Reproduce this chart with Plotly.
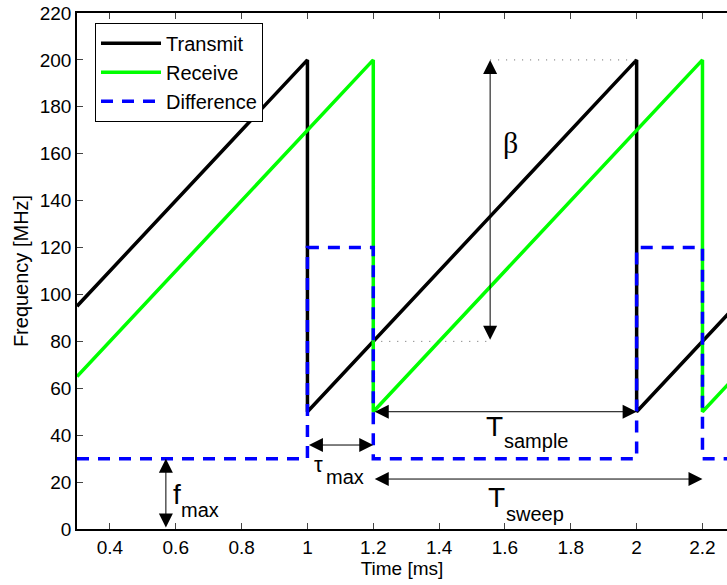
import plotly.graph_objects as go

# ---- data ----
time_transmit = [0.3, 1.0, 1.0, 2.0, 2.0, 2.3]
freq_transmit = [95, 200, 50, 200, 50, 95]
time_receive = [0.3, 1.2, 1.2, 2.2, 2.2, 2.3]
freq_receive = [65, 200, 50, 200, 50, 65]
time_diff = [0.3, 1.0, 1.0, 1.2, 1.2, 2.0, 2.0, 2.2, 2.2, 2.3]
freq_diff = [30, 30, 120, 120, 30, 30, 120, 120, 30, 30]

x_ticks = [0.4, 0.6, 0.8, 1.0, 1.2, 1.4, 1.6, 1.8, 2.0, 2.2]
x_tick_labels = ["0.4", "0.6", "0.8", "1", "1.2", "1.4", "1.6", "1.8", "2", "2.2"]

# double-headed arrows: (x_head, y_head, x_tail, y_tail)
arrow_x0 = [1.555, 1.2, 1.0, 1.2, 0.570]
arrow_y0 = [80, 50, 35.8, 21.3, 0]
arrow_x1 = [1.555, 2.0, 1.2, 2.2, 0.570]
arrow_y1 = [200, 50, 35.8, 21.3, 30]

# dotted guide lines
guide_x0 = [1.555, 1.2]
guide_x1 = [2.0, 1.555]
guide_y = [200, 80]

# labels
label_text = ["β", "T", "sample", "T", "sweep", "τ", "max", "f", "max"]
label_x = [1.591, 1.539, 1.594, 1.545, 1.600, 1.017, 1.053, 0.589, 0.613]
label_y = [165, 43.5, 37.5, 13.6, 6.4, 27.3, 22.3, 14.9, 8.2]
label_size = [30, 28, 20, 28, 20, 22, 20, 28, 20]
label_family = ["Liberation Serif", "Liberation Sans", "Liberation Sans", "Liberation Sans",
                "Liberation Sans", "Liberation Sans", "Liberation Sans", "Liberation Sans",
                "Liberation Sans"]

FONT = "Liberation Sans, Arial, sans-serif"

fig = go.Figure()
fig.add_trace(go.Scatter(x=time_transmit, y=freq_transmit, mode="lines", name="Transmit",
                         line=dict(color="black", width=3.5)))
fig.add_trace(go.Scatter(x=time_receive, y=freq_receive, mode="lines", name="Receive",
                         line=dict(color="#00ff00", width=3.5)))
fig.add_trace(go.Scatter(x=time_diff, y=freq_diff, mode="lines", name="Difference",
                         line=dict(color="#0000ff", width=3.5, dash="12px,9px")))

for xa, ya, xb, yb in zip(arrow_x0, arrow_y0, arrow_x1, arrow_y1):
    fig.add_annotation(x=xb, y=yb, ax=xa, ay=ya, xref="x", yref="y", axref="x", ayref="y",
                       text="", showarrow=True, arrowhead=2, startarrowhead=2,
                       arrowside="end+start", arrowsize=2.8, startarrowsize=2.8,
                       arrowwidth=1, arrowcolor="black", standoff=0, startstandoff=0)

for xa, xb, yy in zip(guide_x0, guide_x1, guide_y):
    fig.add_shape(type="line", x0=xa, x1=xb, y0=yy, y1=yy, xref="x", yref="y",
                  line=dict(color="#666666", width=1, dash="1px,7px"))

for t, xx, yy, s, fam in zip(label_text, label_x, label_y, label_size, label_family):
    fig.add_annotation(x=xx, y=yy, xref="x", yref="y", text=t, showarrow=False,
                       xanchor="left", yanchor="middle", borderpad=0,
                       font=dict(family=fam, size=s, color="black"))

fig.update_layout(
    width=727, height=585,
    margin=dict(l=77, r=0, t=13, b=56),
    paper_bgcolor="white", plot_bgcolor="white",
    font=dict(family=FONT, size=19, color="black"),
    showlegend=True,
    legend=dict(x=0.0277, y=0.981, xanchor="left", yanchor="top",
                bordercolor="black", borderwidth=1, bgcolor="white",
                font=dict(family=FONT, size=20, color="black"),
                itemwidth=60, tracegroupgap=0),
)
fig.update_xaxes(range=[0.3, 2.2745], tickvals=x_ticks, ticktext=x_tick_labels,
                 showline=True, linecolor="black", linewidth=1.5, mirror="ticks",
                 ticks="inside", ticklen=6, tickcolor="#444444", tickwidth=1,
                 showgrid=False, zeroline=False,
                 title=dict(text="Time [ms]", font=dict(family=FONT, size=19), standoff=4),
                 tickfont=dict(family=FONT, size=19))
fig.update_yaxes(range=[0, 220], dtick=20, tick0=0,
                 showline=True, linecolor="black", linewidth=1.5, mirror=False,
                 ticks="inside", ticklen=6, tickcolor="#444444", tickwidth=1,
                 showgrid=False, zeroline=False,
                 title=dict(text="Frequency [MHz]", font=dict(family=FONT, size=20), standoff=6),
                 tickfont=dict(family=FONT, size=19))

fig.write_html("out.html")
